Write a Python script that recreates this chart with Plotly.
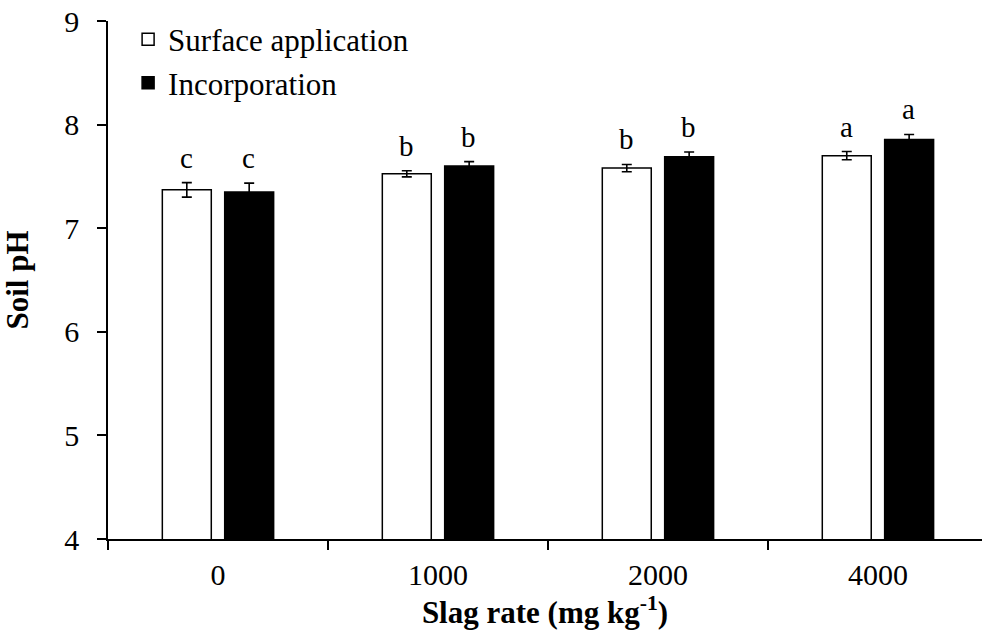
import plotly.graph_objects as go

categories = ["0", "1000", "2000", "4000"]
surface_vals = [7.37, 7.525, 7.58, 7.70]
surface_err = [0.07, 0.03, 0.035, 0.04]
surface_letters = ["c", "b", "b", "a"]
incorp_vals = [7.35, 7.60, 7.69, 7.855]
incorp_err = [0.085, 0.043, 0.045, 0.05]
incorp_letters = ["c", "b", "b", "a"]

FONT = "Liberation Serif"

fig = go.Figure()
fig.add_trace(go.Bar(
    x=categories, y=surface_vals, name="Surface application",
    marker=dict(color="white", line=dict(color="black", width=1.5)),
    error_y=dict(type="data", array=surface_err, color="black", thickness=1.6, width=5),
))
fig.add_trace(go.Bar(
    x=categories, y=incorp_vals, name="Incorporation",
    marker=dict(color="black", line=dict(color="black", width=1.5)),
    error_y=dict(type="data", array=incorp_err, color="black", thickness=1.6, width=5),
))

for i, (v, e, t) in enumerate(zip(surface_vals, surface_err, surface_letters)):
    fig.add_annotation(x=i, y=v + e, text=t, showarrow=False, xshift=-31,
                       yanchor="bottom", yshift=7, font=dict(size=29, family=FONT, color="black"))
for i, (v, e, t) in enumerate(zip(incorp_vals, incorp_err, incorp_letters)):
    fig.add_annotation(x=i, y=v + e, text=t, showarrow=False, xshift=31,
                       yanchor="bottom", yshift=7, font=dict(size=29, family=FONT, color="black"))

fig.update_layout(
    width=982, height=637,
    margin=dict(l=108, r=0, t=21, b=98),
    plot_bgcolor="white", paper_bgcolor="white",
    barmode="group", bargap=0.433, bargroupgap=0.215,
    font=dict(family=FONT, color="black"),
    showlegend=True,
    legend=dict(x=0.023, y=1.016, xanchor="left", yanchor="top",
                font=dict(size=31, family=FONT, color="black"),
                bgcolor="rgba(0,0,0,0)", tracegroupgap=0, itemwidth=30),
    xaxis=dict(
        type="category", range=[-0.5, 3.473],
        showline=True, linecolor="black", linewidth=1.5,
        ticks="outside", tickson="boundaries", ticklen=9, tickwidth=1.5, tickcolor="black",
        tickfont=dict(size=30, family=FONT, color="black"), ticklabelstandoff=8,
        title=dict(text="<b>Slag rate (mg kg<sup>-1</sup>)</b>", font=dict(size=31, family=FONT, color="black"), standoff=8),
        showgrid=False, zeroline=False,
    ),
    yaxis=dict(
        range=[4, 9], dtick=1,
        showline=True, linecolor="black", linewidth=1.5,
        ticks="outside", ticklen=9, tickwidth=1.5, tickcolor="black",
        tickfont=dict(size=30, family=FONT, color="black"), ticklabelstandoff=12,
        title=dict(text="<b>Soil pH</b>", font=dict(size=31, family=FONT, color="black"), standoff=28),
        showgrid=False, zeroline=False,
    ),
)

fig.write_html("out.html")
